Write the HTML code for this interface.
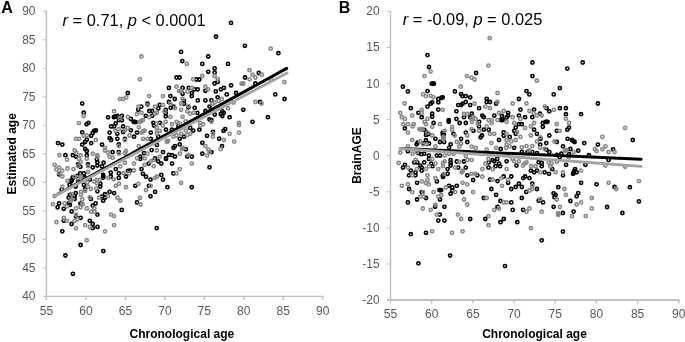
<!DOCTYPE html>
<html lang="en"><head><meta charset="utf-8"><title>Figure</title>
<style>html,body{margin:0;padding:0;background:#fff}svg{display:block;will-change:transform}text{font-family:"Liberation Sans", Arial, sans-serif}.tk{font-size:12px;fill:#595959}.ti{font-size:12px;font-weight:bold;fill:#000}.an{font-size:16.4px;fill:#000}.pl{font-size:16px;font-weight:bold;fill:#000}</style></head><body>
<svg width="685" height="342" viewBox="0 0 685 342">
<rect width="685" height="342" fill="#fff"/>
<g stroke="#bfbfbf" fill="none">
<line x1="46.4" y1="10.8" x2="46.4" y2="300.0" stroke-width="1.5"/>
<line x1="42.8" y1="296.4" x2="323.5" y2="296.4" stroke-width="1.1"/>
<line x1="42.8" y1="11.30" x2="46.4" y2="11.30" stroke-width="1"/>
<line x1="42.8" y1="39.81" x2="46.4" y2="39.81" stroke-width="1"/>
<line x1="42.8" y1="68.32" x2="46.4" y2="68.32" stroke-width="1"/>
<line x1="42.8" y1="96.83" x2="46.4" y2="96.83" stroke-width="1"/>
<line x1="42.8" y1="125.34" x2="46.4" y2="125.34" stroke-width="1"/>
<line x1="42.8" y1="153.85" x2="46.4" y2="153.85" stroke-width="1"/>
<line x1="42.8" y1="182.36" x2="46.4" y2="182.36" stroke-width="1"/>
<line x1="42.8" y1="210.87" x2="46.4" y2="210.87" stroke-width="1"/>
<line x1="42.8" y1="239.38" x2="46.4" y2="239.38" stroke-width="1"/>
<line x1="42.8" y1="267.89" x2="46.4" y2="267.89" stroke-width="1"/>
<line x1="85.89" y1="296.4" x2="85.89" y2="300.0" stroke-width="1.4"/>
<line x1="125.37" y1="296.4" x2="125.37" y2="300.0" stroke-width="1.4"/>
<line x1="164.86" y1="296.4" x2="164.86" y2="300.0" stroke-width="1.4"/>
<line x1="204.34" y1="296.4" x2="204.34" y2="300.0" stroke-width="1.4"/>
<line x1="243.83" y1="296.4" x2="243.83" y2="300.0" stroke-width="1.4"/>
<line x1="283.31" y1="296.4" x2="283.31" y2="300.0" stroke-width="1.4"/>
<line x1="322.80" y1="296.4" x2="322.80" y2="300.0" stroke-width="1.4"/>
</g>
<text class="tk" text-anchor="end" x="35.5" y="15.2">90</text>
<text class="tk" text-anchor="end" x="35.5" y="43.7">85</text>
<text class="tk" text-anchor="end" x="35.5" y="72.2">80</text>
<text class="tk" text-anchor="end" x="35.5" y="100.7">75</text>
<text class="tk" text-anchor="end" x="35.5" y="129.2">70</text>
<text class="tk" text-anchor="end" x="35.5" y="157.8">65</text>
<text class="tk" text-anchor="end" x="35.5" y="186.3">60</text>
<text class="tk" text-anchor="end" x="35.5" y="214.8">55</text>
<text class="tk" text-anchor="end" x="35.5" y="243.3">50</text>
<text class="tk" text-anchor="end" x="35.5" y="271.8">45</text>
<text class="tk" text-anchor="end" x="35.5" y="300.3">40</text>
<text class="tk" text-anchor="middle" x="46.4" y="314.7">55</text>
<text class="tk" text-anchor="middle" x="85.9" y="314.7">60</text>
<text class="tk" text-anchor="middle" x="125.4" y="314.7">65</text>
<text class="tk" text-anchor="middle" x="164.9" y="314.7">70</text>
<text class="tk" text-anchor="middle" x="204.3" y="314.7">75</text>
<text class="tk" text-anchor="middle" x="243.8" y="314.7">80</text>
<text class="tk" text-anchor="middle" x="283.3" y="314.7">85</text>
<text class="tk" text-anchor="middle" x="322.8" y="314.7">90</text>
<g stroke="#bfbfbf" fill="none">
<line x1="390.5" y1="10.9" x2="390.5" y2="303.6" stroke-width="1.4"/>
<line x1="386.9" y1="300.0" x2="679.5" y2="300.0" stroke-width="1.9"/>
<line x1="386.9" y1="11.40" x2="390.5" y2="11.40" stroke-width="1"/>
<line x1="386.9" y1="47.48" x2="390.5" y2="47.48" stroke-width="1"/>
<line x1="386.9" y1="83.55" x2="390.5" y2="83.55" stroke-width="1"/>
<line x1="386.9" y1="119.63" x2="390.5" y2="119.63" stroke-width="1"/>
<line x1="386.9" y1="155.70" x2="390.5" y2="155.70" stroke-width="1"/>
<line x1="386.9" y1="191.78" x2="390.5" y2="191.78" stroke-width="1"/>
<line x1="386.9" y1="227.85" x2="390.5" y2="227.85" stroke-width="1"/>
<line x1="386.9" y1="263.93" x2="390.5" y2="263.93" stroke-width="1"/>
<line x1="431.69" y1="300.0" x2="431.69" y2="303.6" stroke-width="1.4"/>
<line x1="472.87" y1="300.0" x2="472.87" y2="303.6" stroke-width="1.4"/>
<line x1="514.06" y1="300.0" x2="514.06" y2="303.6" stroke-width="1.4"/>
<line x1="555.24" y1="300.0" x2="555.24" y2="303.6" stroke-width="1.4"/>
<line x1="596.43" y1="300.0" x2="596.43" y2="303.6" stroke-width="1.4"/>
<line x1="637.61" y1="300.0" x2="637.61" y2="303.6" stroke-width="1.4"/>
<line x1="678.80" y1="300.0" x2="678.80" y2="303.6" stroke-width="1.4"/>
</g>
<text class="tk" text-anchor="end" x="379.6" y="15.3">20</text>
<text class="tk" text-anchor="end" x="379.6" y="51.4">15</text>
<text class="tk" text-anchor="end" x="379.6" y="87.5">10</text>
<text class="tk" text-anchor="end" x="379.6" y="123.5">5</text>
<text class="tk" text-anchor="end" x="379.6" y="159.6">0</text>
<text class="tk" text-anchor="end" x="379.6" y="195.7">-5</text>
<text class="tk" text-anchor="end" x="379.6" y="231.8">-10</text>
<text class="tk" text-anchor="end" x="379.6" y="267.8">-15</text>
<text class="tk" text-anchor="end" x="379.6" y="303.9">-20</text>
<text class="tk" text-anchor="middle" x="390.5" y="318.3">55</text>
<text class="tk" text-anchor="middle" x="431.7" y="318.3">60</text>
<text class="tk" text-anchor="middle" x="472.9" y="318.3">65</text>
<text class="tk" text-anchor="middle" x="514.1" y="318.3">70</text>
<text class="tk" text-anchor="middle" x="555.2" y="318.3">75</text>
<text class="tk" text-anchor="middle" x="596.4" y="318.3">80</text>
<text class="tk" text-anchor="middle" x="637.6" y="318.3">85</text>
<text class="tk" text-anchor="middle" x="678.8" y="318.3">90</text>
<g fill="none" stroke="#000" stroke-width="1.6">
<circle cx="168.9" cy="87.9" r="1.6"/><circle cx="216.0" cy="36.7" r="1.6"/><circle cx="244.9" cy="45.8" r="1.6"/><circle cx="278.4" cy="53.2" r="1.6"/><circle cx="181.1" cy="51.9" r="1.6"/><circle cx="208.2" cy="56.5" r="1.6"/><circle cx="182.3" cy="61.1" r="1.6"/><circle cx="202.3" cy="63.9" r="1.6"/><circle cx="228.1" cy="63.9" r="1.6"/><circle cx="214.6" cy="68.4" r="1.6"/><circle cx="208.2" cy="71.8" r="1.6"/><circle cx="214.6" cy="72.6" r="1.6"/><circle cx="176.5" cy="77.5" r="1.6"/><circle cx="179.6" cy="77.5" r="1.6"/><circle cx="196.3" cy="79.5" r="1.6"/><circle cx="199.3" cy="79.5" r="1.6"/><circle cx="245.1" cy="77.5" r="1.6"/><circle cx="258.8" cy="73.0" r="1.6"/><circle cx="217.7" cy="81.9" r="1.6"/><circle cx="214.6" cy="83.5" r="1.6"/><circle cx="231.1" cy="85.4" r="1.6"/><circle cx="255.4" cy="83.5" r="1.6"/><circle cx="182.6" cy="87.9" r="1.6"/><circle cx="188.8" cy="87.9" r="1.6"/><circle cx="194.6" cy="89.3" r="1.6"/><circle cx="197.7" cy="89.3" r="1.6"/><circle cx="223.9" cy="87.9" r="1.6"/><circle cx="220.9" cy="89.3" r="1.6"/><circle cx="82.2" cy="103.6" r="1.6"/><circle cx="83.7" cy="112.7" r="1.6"/><circle cx="127.8" cy="93.0" r="1.6"/><circle cx="108.1" cy="117.3" r="1.6"/><circle cx="113.9" cy="117.2" r="1.6"/><circle cx="115.5" cy="116.7" r="1.6"/><circle cx="117.4" cy="115.8" r="1.6"/><circle cx="121.9" cy="115.8" r="1.6"/><circle cx="119.0" cy="120.1" r="1.6"/><circle cx="121.9" cy="120.3" r="1.6"/><circle cx="115.7" cy="123.4" r="1.6"/><circle cx="88.4" cy="122.8" r="1.6"/><circle cx="86.5" cy="124.3" r="1.6"/><circle cx="191.8" cy="93.0" r="1.6"/><circle cx="191.8" cy="96.1" r="1.6"/><circle cx="170.4" cy="96.1" r="1.6"/><circle cx="174.8" cy="99.0" r="1.6"/><circle cx="197.8" cy="100.4" r="1.6"/><circle cx="205.4" cy="100.4" r="1.6"/><circle cx="168.9" cy="102.0" r="1.6"/><circle cx="184.0" cy="100.8" r="1.6"/><circle cx="184.0" cy="103.7" r="1.6"/><circle cx="141.3" cy="106.6" r="1.6"/><circle cx="147.5" cy="103.7" r="1.6"/><circle cx="159.8" cy="104.9" r="1.6"/><circle cx="158.3" cy="108.4" r="1.6"/><circle cx="138.2" cy="109.8" r="1.6"/><circle cx="170.7" cy="107.8" r="1.6"/><circle cx="173.6" cy="106.6" r="1.6"/><circle cx="194.7" cy="107.8" r="1.6"/><circle cx="149.3" cy="111.0" r="1.6"/><circle cx="152.2" cy="111.0" r="1.6"/><circle cx="165.7" cy="109.8" r="1.6"/><circle cx="165.7" cy="113.1" r="1.6"/><circle cx="145.8" cy="115.8" r="1.6"/><circle cx="152.2" cy="115.8" r="1.6"/><circle cx="165.7" cy="116.3" r="1.6"/><circle cx="130.9" cy="118.9" r="1.6"/><circle cx="134.7" cy="121.8" r="1.6"/><circle cx="153.4" cy="122.8" r="1.6"/><circle cx="159.8" cy="122.8" r="1.6"/><circle cx="197.3" cy="112.8" r="1.6"/><circle cx="205.4" cy="111.0" r="1.6"/><circle cx="209.5" cy="106.6" r="1.6"/><circle cx="205.4" cy="90.8" r="1.6"/><circle cx="182.6" cy="93.8" r="1.6"/><circle cx="188.5" cy="107.2" r="1.6"/><circle cx="209.5" cy="119.5" r="1.6"/><circle cx="215.8" cy="91.4" r="1.6"/><circle cx="226.7" cy="94.4" r="1.6"/><circle cx="236.0" cy="93.0" r="1.6"/><circle cx="217.6" cy="97.3" r="1.6"/><circle cx="211.4" cy="100.4" r="1.6"/><circle cx="275.3" cy="94.4" r="1.6"/><circle cx="284.5" cy="99.0" r="1.6"/><circle cx="260.1" cy="102.0" r="1.6"/><circle cx="243.3" cy="109.8" r="1.6"/><circle cx="222.3" cy="111.3" r="1.6"/><circle cx="220.8" cy="114.0" r="1.6"/><circle cx="223.8" cy="112.8" r="1.6"/><circle cx="222.3" cy="116.0" r="1.6"/><circle cx="214.7" cy="114.5" r="1.6"/><circle cx="229.6" cy="117.2" r="1.6"/><circle cx="267.9" cy="117.2" r="1.6"/><circle cx="252.5" cy="121.8" r="1.6"/><circle cx="211.4" cy="120.1" r="1.6"/><circle cx="111.1" cy="126.4" r="1.6"/><circle cx="114.1" cy="126.4" r="1.6"/><circle cx="123.1" cy="126.4" r="1.6"/><circle cx="82.2" cy="132.3" r="1.6"/><circle cx="94.2" cy="130.8" r="1.6"/><circle cx="95.8" cy="130.5" r="1.6"/><circle cx="92.7" cy="133.0" r="1.6"/><circle cx="91.2" cy="135.8" r="1.6"/><circle cx="109.6" cy="132.6" r="1.6"/><circle cx="117.3" cy="133.8" r="1.6"/><circle cx="109.6" cy="138.1" r="1.6"/><circle cx="111.1" cy="140.0" r="1.6"/><circle cx="117.3" cy="138.8" r="1.6"/><circle cx="86.8" cy="139.6" r="1.6"/><circle cx="85.1" cy="142.0" r="1.6"/><circle cx="82.2" cy="144.6" r="1.6"/><circle cx="91.2" cy="143.1" r="1.6"/><circle cx="58.0" cy="143.1" r="1.6"/><circle cx="62.3" cy="144.6" r="1.6"/><circle cx="102.0" cy="144.6" r="1.6"/><circle cx="85.1" cy="149.0" r="1.6"/><circle cx="86.8" cy="151.0" r="1.6"/><circle cx="65.4" cy="155.2" r="1.6"/><circle cx="72.8" cy="155.2" r="1.6"/><circle cx="76.0" cy="156.6" r="1.6"/><circle cx="86.8" cy="155.2" r="1.6"/><circle cx="112.6" cy="152.1" r="1.6"/><circle cx="118.8" cy="152.1" r="1.6"/><circle cx="96.8" cy="159.5" r="1.6"/><circle cx="103.6" cy="162.7" r="1.6"/><circle cx="97.4" cy="162.2" r="1.6"/><circle cx="123.1" cy="132.0" r="1.6"/><circle cx="118.8" cy="144.3" r="1.6"/><circle cx="124.9" cy="139.0" r="1.6"/><circle cx="78.1" cy="164.5" r="1.6"/><circle cx="88.0" cy="164.5" r="1.6"/><circle cx="130.9" cy="130.3" r="1.6"/><circle cx="137.0" cy="132.6" r="1.6"/><circle cx="134.1" cy="136.7" r="1.6"/><circle cx="150.8" cy="132.6" r="1.6"/><circle cx="150.8" cy="138.8" r="1.6"/><circle cx="166.0" cy="129.7" r="1.6"/><circle cx="171.9" cy="129.7" r="1.6"/><circle cx="158.3" cy="136.7" r="1.6"/><circle cx="154.0" cy="125.6" r="1.6"/><circle cx="178.5" cy="125.9" r="1.6"/><circle cx="193.2" cy="130.6" r="1.6"/><circle cx="199.4" cy="129.7" r="1.6"/><circle cx="190.2" cy="127.9" r="1.6"/><circle cx="184.0" cy="136.7" r="1.6"/><circle cx="179.7" cy="138.8" r="1.6"/><circle cx="207.0" cy="135.8" r="1.6"/><circle cx="202.3" cy="142.8" r="1.6"/><circle cx="156.9" cy="144.9" r="1.6"/><circle cx="179.7" cy="144.3" r="1.6"/><circle cx="175.0" cy="146.1" r="1.6"/><circle cx="173.5" cy="147.8" r="1.6"/><circle cx="185.9" cy="149.3" r="1.6"/><circle cx="163.0" cy="152.1" r="1.6"/><circle cx="202.3" cy="153.7" r="1.6"/><circle cx="168.9" cy="154.8" r="1.6"/><circle cx="172.1" cy="155.2" r="1.6"/><circle cx="175.0" cy="156.6" r="1.6"/><circle cx="191.8" cy="156.6" r="1.6"/><circle cx="187.3" cy="156.6" r="1.6"/><circle cx="166.0" cy="158.9" r="1.6"/><circle cx="140.3" cy="156.6" r="1.6"/><circle cx="140.3" cy="158.9" r="1.6"/><circle cx="151.6" cy="150.1" r="1.6"/><circle cx="144.0" cy="153.1" r="1.6"/><circle cx="155.1" cy="158.3" r="1.6"/><circle cx="158.1" cy="161.3" r="1.6"/><circle cx="172.1" cy="163.6" r="1.6"/><circle cx="161.3" cy="163.6" r="1.6"/><circle cx="148.7" cy="163.6" r="1.6"/><circle cx="212.9" cy="131.8" r="1.6"/><circle cx="225.2" cy="129.1" r="1.6"/><circle cx="223.5" cy="130.8" r="1.6"/><circle cx="219.1" cy="138.7" r="1.6"/><circle cx="222.0" cy="146.1" r="1.6"/><circle cx="211.4" cy="152.1" r="1.6"/><circle cx="80.4" cy="166.8" r="1.6"/><circle cx="92.7" cy="167.3" r="1.6"/><circle cx="102.0" cy="166.4" r="1.6"/><circle cx="97.4" cy="165.6" r="1.6"/><circle cx="59.1" cy="174.4" r="1.6"/><circle cx="80.2" cy="173.4" r="1.6"/><circle cx="83.9" cy="173.4" r="1.6"/><circle cx="72.8" cy="177.3" r="1.6"/><circle cx="71.6" cy="180.2" r="1.6"/><circle cx="83.9" cy="177.3" r="1.6"/><circle cx="89.8" cy="179.6" r="1.6"/><circle cx="69.6" cy="184.9" r="1.6"/><circle cx="75.7" cy="186.6" r="1.6"/><circle cx="83.9" cy="184.9" r="1.6"/><circle cx="103.2" cy="174.9" r="1.6"/><circle cx="103.2" cy="177.6" r="1.6"/><circle cx="110.8" cy="172.6" r="1.6"/><circle cx="110.8" cy="176.5" r="1.6"/><circle cx="115.8" cy="169.1" r="1.6"/><circle cx="118.8" cy="173.4" r="1.6"/><circle cx="118.8" cy="177.9" r="1.6"/><circle cx="126.0" cy="176.5" r="1.6"/><circle cx="128.1" cy="170.8" r="1.6"/><circle cx="100.3" cy="183.7" r="1.6"/><circle cx="100.3" cy="186.6" r="1.6"/><circle cx="97.4" cy="191.3" r="1.6"/><circle cx="85.1" cy="189.0" r="1.6"/><circle cx="61.7" cy="189.6" r="1.6"/><circle cx="109.6" cy="191.9" r="1.6"/><circle cx="114.1" cy="193.1" r="1.6"/><circle cx="75.7" cy="193.1" r="1.6"/><circle cx="74.6" cy="196.0" r="1.6"/><circle cx="68.7" cy="197.7" r="1.6"/><circle cx="74.6" cy="198.9" r="1.6"/><circle cx="105.0" cy="194.2" r="1.6"/><circle cx="102.0" cy="196.6" r="1.6"/><circle cx="105.0" cy="197.7" r="1.6"/><circle cx="103.2" cy="200.7" r="1.6"/><circle cx="90.9" cy="198.9" r="1.6"/><circle cx="59.1" cy="203.4" r="1.6"/><circle cx="68.7" cy="203.4" r="1.6"/><circle cx="95.6" cy="203.4" r="1.6"/><circle cx="80.4" cy="203.6" r="1.6"/><circle cx="69.9" cy="194.8" r="1.6"/><circle cx="141.5" cy="169.1" r="1.6"/><circle cx="142.9" cy="173.8" r="1.6"/><circle cx="146.0" cy="176.7" r="1.6"/><circle cx="150.5" cy="179.6" r="1.6"/><circle cx="161.3" cy="174.9" r="1.6"/><circle cx="163.0" cy="179.6" r="1.6"/><circle cx="173.3" cy="173.4" r="1.6"/><circle cx="135.3" cy="185.8" r="1.6"/><circle cx="148.9" cy="185.8" r="1.6"/><circle cx="167.4" cy="187.2" r="1.6"/><circle cx="191.8" cy="187.2" r="1.6"/><circle cx="155.1" cy="191.9" r="1.6"/><circle cx="150.5" cy="196.3" r="1.6"/><circle cx="137.0" cy="202.4" r="1.6"/><circle cx="130.2" cy="170.6" r="1.6"/><circle cx="209.5" cy="167.3" r="1.6"/><circle cx="156.7" cy="228.2" r="1.6"/><circle cx="103.3" cy="251.1" r="1.6"/><circle cx="80.6" cy="245.0" r="1.6"/><circle cx="65.4" cy="255.5" r="1.6"/><circle cx="72.9" cy="273.8" r="1.6"/><circle cx="57.6" cy="207.3" r="1.6"/><circle cx="63.8" cy="208.8" r="1.6"/><circle cx="69.9" cy="204.9" r="1.6"/><circle cx="71.6" cy="211.5" r="1.6"/><circle cx="92.7" cy="205.6" r="1.6"/><circle cx="97.4" cy="214.6" r="1.6"/><circle cx="121.7" cy="209.9" r="1.6"/><circle cx="80.6" cy="217.8" r="1.6"/><circle cx="76.0" cy="216.4" r="1.6"/><circle cx="63.8" cy="220.8" r="1.6"/><circle cx="71.6" cy="224.0" r="1.6"/><circle cx="89.8" cy="220.8" r="1.6"/><circle cx="92.7" cy="224.0" r="1.6"/><circle cx="92.7" cy="228.1" r="1.6"/><circle cx="97.4" cy="226.9" r="1.6"/><circle cx="62.3" cy="231.3" r="1.6"/><circle cx="231.0" cy="22.9" r="1.6"/><circle cx="133.5" cy="121.8" r="1.6"/><circle cx="135.6" cy="122.2" r="1.6"/><circle cx="103.2" cy="176.2" r="1.6"/><circle cx="114.7" cy="116.9" r="1.6"/><circle cx="77.4" cy="175.8" r="1.6"/><circle cx="73.2" cy="177.8" r="1.6"/><circle cx="71.2" cy="181.4" r="1.6"/><circle cx="84.6" cy="177.5" r="1.6"/><circle cx="78.2" cy="181.4" r="1.6"/><circle cx="166.0" cy="158.1" r="1.6"/>
</g>
<g fill="none" stroke="#888888" stroke-width="1.6">
<circle cx="141.4" cy="56.5" r="1.6"/><circle cx="139.8" cy="79.3" r="1.6"/><circle cx="270.7" cy="48.6" r="1.6"/><circle cx="186.8" cy="63.9" r="1.6"/><circle cx="249.5" cy="70.2" r="1.6"/><circle cx="252.5" cy="74.7" r="1.6"/><circle cx="261.8" cy="74.7" r="1.6"/><circle cx="255.4" cy="77.5" r="1.6"/><circle cx="249.5" cy="79.3" r="1.6"/><circle cx="202.3" cy="76.0" r="1.6"/><circle cx="214.6" cy="76.0" r="1.6"/><circle cx="217.7" cy="79.1" r="1.6"/><circle cx="193.2" cy="79.3" r="1.6"/><circle cx="176.5" cy="86.7" r="1.6"/><circle cx="205.4" cy="86.7" r="1.6"/><circle cx="191.9" cy="87.9" r="1.6"/><circle cx="208.2" cy="89.3" r="1.6"/><circle cx="284.4" cy="82.1" r="1.6"/><circle cx="270.9" cy="79.1" r="1.6"/><circle cx="241.6" cy="83.7" r="1.6"/><circle cx="243.3" cy="83.7" r="1.6"/><circle cx="119.9" cy="99.0" r="1.6"/><circle cx="123.1" cy="99.0" r="1.6"/><circle cx="126.3" cy="97.5" r="1.6"/><circle cx="114.1" cy="111.2" r="1.6"/><circle cx="83.7" cy="116.0" r="1.6"/><circle cx="127.8" cy="117.0" r="1.6"/><circle cx="79.0" cy="123.1" r="1.6"/><circle cx="119.9" cy="118.2" r="1.6"/><circle cx="180.3" cy="91.1" r="1.6"/><circle cx="187.3" cy="91.4" r="1.6"/><circle cx="149.1" cy="96.1" r="1.6"/><circle cx="163.0" cy="96.1" r="1.6"/><circle cx="182.6" cy="99.0" r="1.6"/><circle cx="181.1" cy="103.7" r="1.6"/><circle cx="170.4" cy="103.7" r="1.6"/><circle cx="147.5" cy="105.1" r="1.6"/><circle cx="138.4" cy="106.6" r="1.6"/><circle cx="155.1" cy="106.6" r="1.6"/><circle cx="163.0" cy="104.9" r="1.6"/><circle cx="175.0" cy="108.2" r="1.6"/><circle cx="181.1" cy="109.8" r="1.6"/><circle cx="141.5" cy="112.8" r="1.6"/><circle cx="156.9" cy="112.8" r="1.6"/><circle cx="136.8" cy="114.2" r="1.6"/><circle cx="164.5" cy="111.3" r="1.6"/><circle cx="187.3" cy="111.3" r="1.6"/><circle cx="190.2" cy="113.7" r="1.6"/><circle cx="193.7" cy="112.8" r="1.6"/><circle cx="170.4" cy="116.8" r="1.6"/><circle cx="182.6" cy="116.8" r="1.6"/><circle cx="149.3" cy="117.2" r="1.6"/><circle cx="155.1" cy="113.7" r="1.6"/><circle cx="139.9" cy="121.8" r="1.6"/><circle cx="142.9" cy="120.1" r="1.6"/><circle cx="165.7" cy="121.8" r="1.6"/><circle cx="176.5" cy="121.8" r="1.6"/><circle cx="156.9" cy="123.4" r="1.6"/><circle cx="171.9" cy="124.2" r="1.6"/><circle cx="179.7" cy="123.4" r="1.6"/><circle cx="185.6" cy="121.3" r="1.6"/><circle cx="188.5" cy="106.1" r="1.6"/><circle cx="200.2" cy="122.8" r="1.6"/><circle cx="203.1" cy="124.2" r="1.6"/><circle cx="221.7" cy="99.0" r="1.6"/><circle cx="218.8" cy="100.8" r="1.6"/><circle cx="214.7" cy="102.5" r="1.6"/><circle cx="212.3" cy="103.7" r="1.6"/><circle cx="255.4" cy="102.0" r="1.6"/><circle cx="261.5" cy="103.5" r="1.6"/><circle cx="228.1" cy="108.2" r="1.6"/><circle cx="233.4" cy="102.5" r="1.6"/><circle cx="239.0" cy="123.0" r="1.6"/><circle cx="211.4" cy="121.8" r="1.6"/><circle cx="118.8" cy="129.1" r="1.6"/><circle cx="115.5" cy="130.8" r="1.6"/><circle cx="124.9" cy="130.3" r="1.6"/><circle cx="127.8" cy="127.9" r="1.6"/><circle cx="83.7" cy="135.8" r="1.6"/><circle cx="86.8" cy="135.3" r="1.6"/><circle cx="76.0" cy="138.8" r="1.6"/><circle cx="79.0" cy="138.8" r="1.6"/><circle cx="95.8" cy="140.0" r="1.6"/><circle cx="74.6" cy="150.5" r="1.6"/><circle cx="76.3" cy="152.8" r="1.6"/><circle cx="80.6" cy="155.2" r="1.6"/><circle cx="92.7" cy="153.7" r="1.6"/><circle cx="97.4" cy="155.2" r="1.6"/><circle cx="105.0" cy="147.8" r="1.6"/><circle cx="105.0" cy="150.5" r="1.6"/><circle cx="107.9" cy="152.5" r="1.6"/><circle cx="59.4" cy="155.2" r="1.6"/><circle cx="67.0" cy="159.5" r="1.6"/><circle cx="79.0" cy="158.9" r="1.6"/><circle cx="80.6" cy="161.8" r="1.6"/><circle cx="86.8" cy="158.7" r="1.6"/><circle cx="109.6" cy="156.6" r="1.6"/><circle cx="112.6" cy="157.7" r="1.6"/><circle cx="118.8" cy="146.1" r="1.6"/><circle cx="124.9" cy="140.2" r="1.6"/><circle cx="126.0" cy="151.0" r="1.6"/><circle cx="124.9" cy="153.1" r="1.6"/><circle cx="124.9" cy="162.7" r="1.6"/><circle cx="129.5" cy="135.5" r="1.6"/><circle cx="119.0" cy="153.7" r="1.6"/><circle cx="54.7" cy="164.8" r="1.6"/><circle cx="97.4" cy="157.2" r="1.6"/><circle cx="138.8" cy="127.3" r="1.6"/><circle cx="144.6" cy="130.6" r="1.6"/><circle cx="141.7" cy="132.6" r="1.6"/><circle cx="156.9" cy="127.9" r="1.6"/><circle cx="156.9" cy="130.8" r="1.6"/><circle cx="159.8" cy="130.8" r="1.6"/><circle cx="156.9" cy="133.8" r="1.6"/><circle cx="143.1" cy="138.8" r="1.6"/><circle cx="147.5" cy="138.8" r="1.6"/><circle cx="138.8" cy="146.1" r="1.6"/><circle cx="167.4" cy="141.4" r="1.6"/><circle cx="173.5" cy="136.7" r="1.6"/><circle cx="176.5" cy="135.5" r="1.6"/><circle cx="181.1" cy="133.8" r="1.6"/><circle cx="185.9" cy="130.6" r="1.6"/><circle cx="190.2" cy="133.8" r="1.6"/><circle cx="187.3" cy="134.9" r="1.6"/><circle cx="205.4" cy="146.1" r="1.6"/><circle cx="208.4" cy="149.6" r="1.6"/><circle cx="182.6" cy="148.4" r="1.6"/><circle cx="179.7" cy="153.7" r="1.6"/><circle cx="156.9" cy="150.5" r="1.6"/><circle cx="147.5" cy="153.7" r="1.6"/><circle cx="144.6" cy="158.3" r="1.6"/><circle cx="137.0" cy="158.3" r="1.6"/><circle cx="159.8" cy="156.6" r="1.6"/><circle cx="150.8" cy="161.3" r="1.6"/><circle cx="153.4" cy="159.9" r="1.6"/><circle cx="134.1" cy="163.6" r="1.6"/><circle cx="144.6" cy="164.8" r="1.6"/><circle cx="191.8" cy="163.6" r="1.6"/><circle cx="207.2" cy="155.4" r="1.6"/><circle cx="188.5" cy="154.8" r="1.6"/><circle cx="200.2" cy="125.6" r="1.6"/><circle cx="162.7" cy="125.6" r="1.6"/><circle cx="209.5" cy="152.1" r="1.6"/><circle cx="212.9" cy="133.8" r="1.6"/><circle cx="212.9" cy="136.7" r="1.6"/><circle cx="229.6" cy="133.8" r="1.6"/><circle cx="239.0" cy="132.6" r="1.6"/><circle cx="223.8" cy="140.0" r="1.6"/><circle cx="234.2" cy="141.6" r="1.6"/><circle cx="220.5" cy="149.2" r="1.6"/><circle cx="239.0" cy="125.0" r="1.6"/><circle cx="59.1" cy="167.6" r="1.6"/><circle cx="56.4" cy="169.4" r="1.6"/><circle cx="62.3" cy="170.6" r="1.6"/><circle cx="67.5" cy="168.5" r="1.6"/><circle cx="73.4" cy="169.1" r="1.6"/><circle cx="78.1" cy="165.9" r="1.6"/><circle cx="88.0" cy="166.2" r="1.6"/><circle cx="120.2" cy="166.4" r="1.6"/><circle cx="88.0" cy="172.0" r="1.6"/><circle cx="62.3" cy="176.5" r="1.6"/><circle cx="59.1" cy="173.2" r="1.6"/><circle cx="67.5" cy="180.8" r="1.6"/><circle cx="74.6" cy="176.7" r="1.6"/><circle cx="77.5" cy="177.9" r="1.6"/><circle cx="81.0" cy="176.7" r="1.6"/><circle cx="96.8" cy="180.0" r="1.6"/><circle cx="99.7" cy="180.0" r="1.6"/><circle cx="96.8" cy="183.1" r="1.6"/><circle cx="87.4" cy="182.5" r="1.6"/><circle cx="88.0" cy="186.6" r="1.6"/><circle cx="90.9" cy="189.0" r="1.6"/><circle cx="62.3" cy="186.6" r="1.6"/><circle cx="54.7" cy="196.0" r="1.6"/><circle cx="81.0" cy="191.9" r="1.6"/><circle cx="81.0" cy="194.8" r="1.6"/><circle cx="85.1" cy="191.0" r="1.6"/><circle cx="72.0" cy="194.2" r="1.6"/><circle cx="82.2" cy="199.5" r="1.6"/><circle cx="72.0" cy="199.5" r="1.6"/><circle cx="89.8" cy="197.5" r="1.6"/><circle cx="99.1" cy="197.7" r="1.6"/><circle cx="107.9" cy="196.0" r="1.6"/><circle cx="117.3" cy="197.7" r="1.6"/><circle cx="120.2" cy="200.7" r="1.6"/><circle cx="113.7" cy="179.3" r="1.6"/><circle cx="108.5" cy="177.9" r="1.6"/><circle cx="119.0" cy="183.7" r="1.6"/><circle cx="115.8" cy="185.8" r="1.6"/><circle cx="126.0" cy="187.2" r="1.6"/><circle cx="123.5" cy="173.2" r="1.6"/><circle cx="128.9" cy="173.4" r="1.6"/><circle cx="64.6" cy="203.4" r="1.6"/><circle cx="82.7" cy="204.2" r="1.6"/><circle cx="52.9" cy="204.2" r="1.6"/><circle cx="96.2" cy="188.4" r="1.6"/><circle cx="94.4" cy="181.4" r="1.6"/><circle cx="133.9" cy="170.5" r="1.6"/><circle cx="153.7" cy="166.2" r="1.6"/><circle cx="179.7" cy="169.1" r="1.6"/><circle cx="176.5" cy="173.4" r="1.6"/><circle cx="156.9" cy="176.5" r="1.6"/><circle cx="155.1" cy="178.1" r="1.6"/><circle cx="181.1" cy="182.8" r="1.6"/><circle cx="138.4" cy="183.9" r="1.6"/><circle cx="150.8" cy="185.8" r="1.6"/><circle cx="146.0" cy="190.1" r="1.6"/><circle cx="139.9" cy="198.0" r="1.6"/><circle cx="140.5" cy="204.5" r="1.6"/><circle cx="86.7" cy="240.3" r="1.6"/><circle cx="67.0" cy="206.4" r="1.6"/><circle cx="76.0" cy="208.4" r="1.6"/><circle cx="80.6" cy="207.3" r="1.6"/><circle cx="86.8" cy="208.4" r="1.6"/><circle cx="94.4" cy="208.4" r="1.6"/><circle cx="91.2" cy="211.7" r="1.6"/><circle cx="94.4" cy="211.7" r="1.6"/><circle cx="111.1" cy="214.6" r="1.6"/><circle cx="114.1" cy="216.1" r="1.6"/><circle cx="63.8" cy="217.8" r="1.6"/><circle cx="67.0" cy="220.8" r="1.6"/><circle cx="74.6" cy="220.8" r="1.6"/><circle cx="77.5" cy="219.3" r="1.6"/><circle cx="76.0" cy="214.6" r="1.6"/><circle cx="56.4" cy="222.2" r="1.6"/><circle cx="85.1" cy="225.1" r="1.6"/><circle cx="89.8" cy="226.9" r="1.6"/><circle cx="76.0" cy="228.3" r="1.6"/><circle cx="114.1" cy="225.1" r="1.6"/><circle cx="105.0" cy="231.3" r="1.6"/><circle cx="70.5" cy="200.9" r="1.6"/><circle cx="179.1" cy="91.1" r="1.6"/><circle cx="181.5" cy="91.1" r="1.6"/><circle cx="141.3" cy="121.0" r="1.6"/><circle cx="242.5" cy="83.7" r="1.6"/><circle cx="80.8" cy="177.2" r="1.6"/><circle cx="143.1" cy="131.5" r="1.6"/><circle cx="166.8" cy="141.7" r="1.6"/><circle cx="168.0" cy="141.0" r="1.6"/><circle cx="182.0" cy="149.0" r="1.6"/><circle cx="183.2" cy="147.8" r="1.6"/>
</g>
<line x1="58" y1="194.0" x2="286.7" y2="68.4" stroke="#000" stroke-width="3" stroke-linecap="round"/>
<line x1="54.5" y1="196.1" x2="287.1" y2="73.0" stroke="#a3a3a3" stroke-width="2.8" stroke-linecap="round"/>
<g fill="none" stroke="#000" stroke-width="1.6">
<circle cx="427.5" cy="55.1" r="1.6"/><circle cx="429.0" cy="67.0" r="1.6"/><circle cx="476.1" cy="73.0" r="1.6"/><circle cx="431.8" cy="83.7" r="1.6"/><circle cx="433.9" cy="83.7" r="1.6"/><circle cx="402.9" cy="86.7" r="1.6"/><circle cx="532.4" cy="62.5" r="1.6"/><circle cx="582.7" cy="62.5" r="1.6"/><circle cx="567.3" cy="68.6" r="1.6"/><circle cx="532.4" cy="76.1" r="1.6"/><circle cx="559.9" cy="88.1" r="1.6"/><circle cx="407.9" cy="91.4" r="1.6"/><circle cx="427.5" cy="91.1" r="1.6"/><circle cx="454.9" cy="91.4" r="1.6"/><circle cx="461.1" cy="94.1" r="1.6"/><circle cx="462.6" cy="96.1" r="1.6"/><circle cx="465.8" cy="96.1" r="1.6"/><circle cx="470.2" cy="97.3" r="1.6"/><circle cx="441.2" cy="98.1" r="1.6"/><circle cx="442.7" cy="97.3" r="1.6"/><circle cx="438.3" cy="99.0" r="1.6"/><circle cx="438.3" cy="102.3" r="1.6"/><circle cx="432.2" cy="102.3" r="1.6"/><circle cx="430.7" cy="103.7" r="1.6"/><circle cx="427.5" cy="106.6" r="1.6"/><circle cx="410.8" cy="108.2" r="1.6"/><circle cx="438.3" cy="109.6" r="1.6"/><circle cx="418.4" cy="112.8" r="1.6"/><circle cx="421.7" cy="117.2" r="1.6"/><circle cx="432.2" cy="113.7" r="1.6"/><circle cx="432.2" cy="116.8" r="1.6"/><circle cx="456.4" cy="111.3" r="1.6"/><circle cx="458.2" cy="105.1" r="1.6"/><circle cx="461.1" cy="105.1" r="1.6"/><circle cx="462.6" cy="103.7" r="1.6"/><circle cx="465.8" cy="102.0" r="1.6"/><circle cx="470.2" cy="105.1" r="1.6"/><circle cx="471.8" cy="113.7" r="1.6"/><circle cx="464.0" cy="117.2" r="1.6"/><circle cx="470.2" cy="117.2" r="1.6"/><circle cx="456.4" cy="118.9" r="1.6"/><circle cx="448.8" cy="120.1" r="1.6"/><circle cx="448.8" cy="121.8" r="1.6"/><circle cx="459.6" cy="123.0" r="1.6"/><circle cx="465.8" cy="123.0" r="1.6"/><circle cx="433.6" cy="123.0" r="1.6"/><circle cx="526.5" cy="91.1" r="1.6"/><circle cx="529.4" cy="94.4" r="1.6"/><circle cx="553.7" cy="94.4" r="1.6"/><circle cx="518.9" cy="99.0" r="1.6"/><circle cx="486.7" cy="98.8" r="1.6"/><circle cx="486.7" cy="102.0" r="1.6"/><circle cx="490.0" cy="102.0" r="1.6"/><circle cx="496.1" cy="103.7" r="1.6"/><circle cx="479.1" cy="108.2" r="1.6"/><circle cx="520.4" cy="109.6" r="1.6"/><circle cx="534.1" cy="109.6" r="1.6"/><circle cx="546.6" cy="108.2" r="1.6"/><circle cx="549.3" cy="111.3" r="1.6"/><circle cx="508.1" cy="112.8" r="1.6"/><circle cx="508.1" cy="115.6" r="1.6"/><circle cx="501.9" cy="116.0" r="1.6"/><circle cx="506.6" cy="117.5" r="1.6"/><circle cx="494.3" cy="115.6" r="1.6"/><circle cx="482.3" cy="115.6" r="1.6"/><circle cx="483.8" cy="117.2" r="1.6"/><circle cx="518.9" cy="115.6" r="1.6"/><circle cx="525.1" cy="117.2" r="1.6"/><circle cx="532.3" cy="117.2" r="1.6"/><circle cx="539.9" cy="113.7" r="1.6"/><circle cx="479.1" cy="121.8" r="1.6"/><circle cx="501.9" cy="120.1" r="1.6"/><circle cx="518.9" cy="124.2" r="1.6"/><circle cx="521.8" cy="124.2" r="1.6"/><circle cx="542.8" cy="123.0" r="1.6"/><circle cx="545.8" cy="121.8" r="1.6"/><circle cx="547.5" cy="121.8" r="1.6"/><circle cx="597.9" cy="103.5" r="1.6"/><circle cx="559.9" cy="108.2" r="1.6"/><circle cx="565.9" cy="108.2" r="1.6"/><circle cx="565.9" cy="114.2" r="1.6"/><circle cx="581.1" cy="114.2" r="1.6"/><circle cx="404.9" cy="128.3" r="1.6"/><circle cx="465.8" cy="132.6" r="1.6"/><circle cx="473.4" cy="130.8" r="1.6"/><circle cx="453.5" cy="133.8" r="1.6"/><circle cx="443.0" cy="132.6" r="1.6"/><circle cx="443.0" cy="135.5" r="1.6"/><circle cx="461.1" cy="138.8" r="1.6"/><circle cx="467.3" cy="142.0" r="1.6"/><circle cx="435.4" cy="138.8" r="1.6"/><circle cx="440.0" cy="142.0" r="1.6"/><circle cx="444.1" cy="142.0" r="1.6"/><circle cx="426.6" cy="132.6" r="1.6"/><circle cx="426.0" cy="140.2" r="1.6"/><circle cx="423.1" cy="143.5" r="1.6"/><circle cx="428.9" cy="143.5" r="1.6"/><circle cx="416.6" cy="144.3" r="1.6"/><circle cx="450.6" cy="144.3" r="1.6"/><circle cx="449.0" cy="147.8" r="1.6"/><circle cx="407.9" cy="151.3" r="1.6"/><circle cx="421.3" cy="154.2" r="1.6"/><circle cx="428.9" cy="155.6" r="1.6"/><circle cx="436.9" cy="155.6" r="1.6"/><circle cx="440.0" cy="155.6" r="1.6"/><circle cx="428.9" cy="158.9" r="1.6"/><circle cx="450.6" cy="160.1" r="1.6"/><circle cx="456.8" cy="161.5" r="1.6"/><circle cx="464.0" cy="161.5" r="1.6"/><circle cx="414.3" cy="162.4" r="1.6"/><circle cx="417.2" cy="162.4" r="1.6"/><circle cx="424.2" cy="162.4" r="1.6"/><circle cx="404.9" cy="164.8" r="1.6"/><circle cx="431.3" cy="163.6" r="1.6"/><circle cx="418.4" cy="153.1" r="1.6"/><circle cx="424.2" cy="153.7" r="1.6"/><circle cx="450.6" cy="163.0" r="1.6"/><circle cx="479.1" cy="126.4" r="1.6"/><circle cx="483.8" cy="129.7" r="1.6"/><circle cx="488.8" cy="129.7" r="1.6"/><circle cx="482.0" cy="135.5" r="1.6"/><circle cx="480.6" cy="137.3" r="1.6"/><circle cx="503.7" cy="132.3" r="1.6"/><circle cx="503.7" cy="135.8" r="1.6"/><circle cx="509.7" cy="136.9" r="1.6"/><circle cx="499.0" cy="140.0" r="1.6"/><circle cx="514.2" cy="130.8" r="1.6"/><circle cx="515.7" cy="127.6" r="1.6"/><circle cx="515.7" cy="133.8" r="1.6"/><circle cx="534.1" cy="129.7" r="1.6"/><circle cx="537.0" cy="133.8" r="1.6"/><circle cx="542.8" cy="126.8" r="1.6"/><circle cx="549.3" cy="135.5" r="1.6"/><circle cx="540.5" cy="138.8" r="1.6"/><circle cx="546.3" cy="143.1" r="1.6"/><circle cx="540.3" cy="144.6" r="1.6"/><circle cx="514.2" cy="147.8" r="1.6"/><circle cx="500.7" cy="149.0" r="1.6"/><circle cx="521.8" cy="151.9" r="1.6"/><circle cx="527.6" cy="152.1" r="1.6"/><circle cx="532.3" cy="152.1" r="1.6"/><circle cx="537.0" cy="153.1" r="1.6"/><circle cx="546.3" cy="149.6" r="1.6"/><circle cx="549.3" cy="152.1" r="1.6"/><circle cx="506.6" cy="161.3" r="1.6"/><circle cx="494.3" cy="161.3" r="1.6"/><circle cx="488.8" cy="162.4" r="1.6"/><circle cx="499.0" cy="163.6" r="1.6"/><circle cx="538.7" cy="162.2" r="1.6"/><circle cx="541.7" cy="163.0" r="1.6"/><circle cx="497.2" cy="158.9" r="1.6"/><circle cx="492.5" cy="160.1" r="1.6"/><circle cx="569.0" cy="127.6" r="1.6"/><circle cx="567.3" cy="129.7" r="1.6"/><circle cx="556.8" cy="130.8" r="1.6"/><circle cx="567.6" cy="138.8" r="1.6"/><circle cx="572.0" cy="140.0" r="1.6"/><circle cx="574.6" cy="142.0" r="1.6"/><circle cx="556.8" cy="142.0" r="1.6"/><circle cx="584.2" cy="143.1" r="1.6"/><circle cx="597.9" cy="144.6" r="1.6"/><circle cx="563.0" cy="146.3" r="1.6"/><circle cx="570.4" cy="149.0" r="1.6"/><circle cx="578.2" cy="150.7" r="1.6"/><circle cx="613.1" cy="149.3" r="1.6"/><circle cx="632.8" cy="140.0" r="1.6"/><circle cx="561.4" cy="153.7" r="1.6"/><circle cx="569.0" cy="154.2" r="1.6"/><circle cx="588.9" cy="155.2" r="1.6"/><circle cx="608.6" cy="159.9" r="1.6"/><circle cx="559.7" cy="157.2" r="1.6"/><circle cx="556.8" cy="154.8" r="1.6"/><circle cx="566.1" cy="164.8" r="1.6"/><circle cx="585.4" cy="164.8" r="1.6"/><circle cx="403.0" cy="167.6" r="1.6"/><circle cx="410.8" cy="170.6" r="1.6"/><circle cx="409.0" cy="175.3" r="1.6"/><circle cx="415.5" cy="172.3" r="1.6"/><circle cx="415.5" cy="175.3" r="1.6"/><circle cx="421.7" cy="167.6" r="1.6"/><circle cx="421.7" cy="170.6" r="1.6"/><circle cx="420.1" cy="165.6" r="1.6"/><circle cx="447.6" cy="169.1" r="1.6"/><circle cx="447.6" cy="173.8" r="1.6"/><circle cx="443.0" cy="175.5" r="1.6"/><circle cx="443.0" cy="176.9" r="1.6"/><circle cx="458.2" cy="167.6" r="1.6"/><circle cx="465.8" cy="167.6" r="1.6"/><circle cx="467.3" cy="175.3" r="1.6"/><circle cx="473.1" cy="180.0" r="1.6"/><circle cx="417.0" cy="182.8" r="1.6"/><circle cx="436.9" cy="181.4" r="1.6"/><circle cx="409.0" cy="189.0" r="1.6"/><circle cx="449.0" cy="185.8" r="1.6"/><circle cx="452.3" cy="187.5" r="1.6"/><circle cx="456.8" cy="185.8" r="1.6"/><circle cx="452.3" cy="190.5" r="1.6"/><circle cx="450.6" cy="193.7" r="1.6"/><circle cx="462.6" cy="192.1" r="1.6"/><circle cx="421.7" cy="192.1" r="1.6"/><circle cx="439.4" cy="190.1" r="1.6"/><circle cx="441.2" cy="190.1" r="1.6"/><circle cx="417.0" cy="199.5" r="1.6"/><circle cx="426.0" cy="198.0" r="1.6"/><circle cx="440.0" cy="199.5" r="1.6"/><circle cx="407.9" cy="202.4" r="1.6"/><circle cx="432.4" cy="166.2" r="1.6"/><circle cx="450.6" cy="165.6" r="1.6"/><circle cx="488.5" cy="167.6" r="1.6"/><circle cx="495.5" cy="166.2" r="1.6"/><circle cx="500.1" cy="166.2" r="1.6"/><circle cx="541.7" cy="166.2" r="1.6"/><circle cx="530.9" cy="170.6" r="1.6"/><circle cx="534.1" cy="172.3" r="1.6"/><circle cx="537.0" cy="170.6" r="1.6"/><circle cx="544.6" cy="172.3" r="1.6"/><circle cx="549.0" cy="173.8" r="1.6"/><circle cx="552.2" cy="169.1" r="1.6"/><circle cx="477.3" cy="175.3" r="1.6"/><circle cx="503.7" cy="176.5" r="1.6"/><circle cx="511.3" cy="176.5" r="1.6"/><circle cx="490.0" cy="179.6" r="1.6"/><circle cx="497.5" cy="181.1" r="1.6"/><circle cx="508.1" cy="182.8" r="1.6"/><circle cx="525.1" cy="176.5" r="1.6"/><circle cx="523.2" cy="178.1" r="1.6"/><circle cx="529.4" cy="178.1" r="1.6"/><circle cx="518.9" cy="183.7" r="1.6"/><circle cx="515.7" cy="187.0" r="1.6"/><circle cx="521.8" cy="187.0" r="1.6"/><circle cx="511.3" cy="189.0" r="1.6"/><circle cx="491.4" cy="189.0" r="1.6"/><circle cx="532.3" cy="183.7" r="1.6"/><circle cx="537.0" cy="189.0" r="1.6"/><circle cx="526.2" cy="191.9" r="1.6"/><circle cx="496.1" cy="194.8" r="1.6"/><circle cx="483.8" cy="198.0" r="1.6"/><circle cx="521.8" cy="198.0" r="1.6"/><circle cx="500.5" cy="201.0" r="1.6"/><circle cx="511.3" cy="202.4" r="1.6"/><circle cx="538.7" cy="200.7" r="1.6"/><circle cx="543.1" cy="202.4" r="1.6"/><circle cx="553.6" cy="193.3" r="1.6"/><circle cx="554.5" cy="197.2" r="1.6"/><circle cx="516.5" cy="165.6" r="1.6"/><circle cx="575.1" cy="169.1" r="1.6"/><circle cx="573.7" cy="172.3" r="1.6"/><circle cx="576.6" cy="172.3" r="1.6"/><circle cx="573.1" cy="173.8" r="1.6"/><circle cx="563.0" cy="175.3" r="1.6"/><circle cx="581.1" cy="182.8" r="1.6"/><circle cx="596.5" cy="184.3" r="1.6"/><circle cx="614.6" cy="187.0" r="1.6"/><circle cx="629.9" cy="187.2" r="1.6"/><circle cx="558.3" cy="187.2" r="1.6"/><circle cx="578.2" cy="193.1" r="1.6"/><circle cx="576.6" cy="196.3" r="1.6"/><circle cx="570.4" cy="201.0" r="1.6"/><circle cx="555.6" cy="194.8" r="1.6"/><circle cx="435.1" cy="206.8" r="1.6"/><circle cx="444.4" cy="206.8" r="1.6"/><circle cx="439.8" cy="214.6" r="1.6"/><circle cx="438.3" cy="220.6" r="1.6"/><circle cx="444.4" cy="220.6" r="1.6"/><circle cx="470.2" cy="219.0" r="1.6"/><circle cx="410.8" cy="234.2" r="1.6"/><circle cx="426.0" cy="232.8" r="1.6"/><circle cx="497.5" cy="206.8" r="1.6"/><circle cx="512.7" cy="209.9" r="1.6"/><circle cx="523.2" cy="209.9" r="1.6"/><circle cx="553.6" cy="206.8" r="1.6"/><circle cx="485.3" cy="219.0" r="1.6"/><circle cx="503.7" cy="219.0" r="1.6"/><circle cx="500.5" cy="222.2" r="1.6"/><circle cx="517.3" cy="222.2" r="1.6"/><circle cx="541.7" cy="240.3" r="1.6"/><circle cx="638.9" cy="201.4" r="1.6"/><circle cx="607.1" cy="207.0" r="1.6"/><circle cx="622.4" cy="213.0" r="1.6"/><circle cx="562.9" cy="213.0" r="1.6"/><circle cx="573.6" cy="211.6" r="1.6"/><circle cx="562.9" cy="231.6" r="1.6"/><circle cx="450.1" cy="255.6" r="1.6"/><circle cx="418.4" cy="263.3" r="1.6"/><circle cx="505.0" cy="266.1" r="1.6"/><circle cx="432.9" cy="83.7" r="1.6"/><circle cx="441.9" cy="97.6" r="1.6"/><circle cx="448.8" cy="121.0" r="1.6"/><circle cx="546.6" cy="121.8" r="1.6"/><circle cx="501.0" cy="120.1" r="1.6"/><circle cx="502.8" cy="120.1" r="1.6"/><circle cx="573.4" cy="141.0" r="1.6"/><circle cx="440.4" cy="190.1" r="1.6"/><circle cx="443.0" cy="176.2" r="1.6"/><circle cx="573.5" cy="173.0" r="1.6"/><circle cx="574.3" cy="170.8" r="1.6"/><circle cx="424.4" cy="130.0" r="1.6"/><circle cx="426.0" cy="134.9" r="1.6"/><circle cx="428.6" cy="134.2" r="1.6"/><circle cx="442.7" cy="133.4" r="1.6"/><circle cx="443.8" cy="134.5" r="1.6"/><circle cx="417.6" cy="142.7" r="1.6"/>
</g>
<g fill="none" stroke="#888888" stroke-width="1.6">
<circle cx="489.7" cy="38.2" r="1.6"/><circle cx="488.3" cy="65.6" r="1.6"/><circle cx="430.6" cy="71.6" r="1.6"/><circle cx="424.5" cy="76.1" r="1.6"/><circle cx="466.9" cy="76.1" r="1.6"/><circle cx="471.5" cy="77.7" r="1.6"/><circle cx="474.6" cy="79.5" r="1.6"/><circle cx="460.8" cy="86.7" r="1.6"/><circle cx="536.9" cy="80.7" r="1.6"/><circle cx="423.1" cy="94.4" r="1.6"/><circle cx="426.0" cy="96.1" r="1.6"/><circle cx="430.7" cy="95.8" r="1.6"/><circle cx="433.6" cy="97.3" r="1.6"/><circle cx="404.7" cy="103.5" r="1.6"/><circle cx="421.7" cy="109.8" r="1.6"/><circle cx="421.7" cy="112.8" r="1.6"/><circle cx="442.7" cy="109.8" r="1.6"/><circle cx="400.3" cy="112.8" r="1.6"/><circle cx="412.3" cy="115.6" r="1.6"/><circle cx="401.8" cy="117.2" r="1.6"/><circle cx="404.9" cy="118.9" r="1.6"/><circle cx="427.5" cy="118.9" r="1.6"/><circle cx="424.5" cy="121.8" r="1.6"/><circle cx="464.0" cy="114.0" r="1.6"/><circle cx="467.3" cy="114.0" r="1.6"/><circle cx="474.5" cy="103.7" r="1.6"/><circle cx="471.8" cy="118.9" r="1.6"/><circle cx="471.8" cy="121.8" r="1.6"/><circle cx="403.4" cy="124.2" r="1.6"/><circle cx="407.9" cy="124.2" r="1.6"/><circle cx="413.7" cy="124.2" r="1.6"/><circle cx="440.0" cy="124.2" r="1.6"/><circle cx="426.0" cy="124.2" r="1.6"/><circle cx="473.4" cy="117.2" r="1.6"/><circle cx="497.5" cy="93.0" r="1.6"/><circle cx="497.5" cy="102.0" r="1.6"/><circle cx="512.7" cy="103.5" r="1.6"/><circle cx="526.5" cy="103.5" r="1.6"/><circle cx="485.3" cy="106.6" r="1.6"/><circle cx="490.0" cy="108.2" r="1.6"/><circle cx="544.9" cy="106.6" r="1.6"/><circle cx="553.9" cy="109.8" r="1.6"/><circle cx="503.7" cy="111.0" r="1.6"/><circle cx="499.0" cy="112.8" r="1.6"/><circle cx="529.4" cy="111.0" r="1.6"/><circle cx="533.5" cy="113.1" r="1.6"/><circle cx="537.0" cy="115.6" r="1.6"/><circle cx="541.7" cy="115.6" r="1.6"/><circle cx="512.7" cy="117.2" r="1.6"/><circle cx="520.4" cy="118.9" r="1.6"/><circle cx="475.6" cy="118.9" r="1.6"/><circle cx="488.5" cy="120.1" r="1.6"/><circle cx="491.6" cy="120.1" r="1.6"/><circle cx="491.6" cy="123.0" r="1.6"/><circle cx="497.5" cy="120.1" r="1.6"/><circle cx="506.6" cy="121.8" r="1.6"/><circle cx="514.2" cy="123.0" r="1.6"/><circle cx="534.1" cy="123.0" r="1.6"/><circle cx="477.9" cy="123.6" r="1.6"/><circle cx="565.9" cy="118.7" r="1.6"/><circle cx="569.0" cy="123.0" r="1.6"/><circle cx="556.8" cy="124.2" r="1.6"/><circle cx="412.5" cy="126.4" r="1.6"/><circle cx="432.2" cy="126.8" r="1.6"/><circle cx="452.1" cy="126.8" r="1.6"/><circle cx="452.1" cy="129.7" r="1.6"/><circle cx="407.9" cy="132.6" r="1.6"/><circle cx="421.3" cy="129.4" r="1.6"/><circle cx="427.5" cy="132.6" r="1.6"/><circle cx="432.2" cy="135.5" r="1.6"/><circle cx="444.7" cy="130.8" r="1.6"/><circle cx="454.6" cy="135.5" r="1.6"/><circle cx="467.3" cy="135.5" r="1.6"/><circle cx="471.6" cy="129.4" r="1.6"/><circle cx="412.3" cy="140.0" r="1.6"/><circle cx="420.1" cy="141.4" r="1.6"/><circle cx="443.0" cy="138.5" r="1.6"/><circle cx="456.8" cy="142.0" r="1.6"/><circle cx="461.1" cy="143.5" r="1.6"/><circle cx="459.3" cy="146.6" r="1.6"/><circle cx="471.6" cy="146.6" r="1.6"/><circle cx="407.9" cy="146.3" r="1.6"/><circle cx="435.4" cy="146.3" r="1.6"/><circle cx="400.3" cy="152.5" r="1.6"/><circle cx="412.5" cy="153.7" r="1.6"/><circle cx="416.6" cy="152.1" r="1.6"/><circle cx="432.2" cy="158.9" r="1.6"/><circle cx="444.7" cy="155.6" r="1.6"/><circle cx="449.0" cy="153.7" r="1.6"/><circle cx="453.5" cy="153.7" r="1.6"/><circle cx="465.8" cy="156.0" r="1.6"/><circle cx="471.6" cy="160.1" r="1.6"/><circle cx="467.3" cy="160.1" r="1.6"/><circle cx="415.5" cy="159.9" r="1.6"/><circle cx="398.7" cy="163.0" r="1.6"/><circle cx="444.7" cy="161.3" r="1.6"/><circle cx="443.0" cy="163.0" r="1.6"/><circle cx="435.4" cy="163.6" r="1.6"/><circle cx="459.3" cy="161.8" r="1.6"/><circle cx="423.1" cy="144.3" r="1.6"/><circle cx="426.6" cy="144.3" r="1.6"/><circle cx="486.7" cy="126.4" r="1.6"/><circle cx="479.1" cy="130.8" r="1.6"/><circle cx="490.0" cy="133.8" r="1.6"/><circle cx="494.3" cy="133.8" r="1.6"/><circle cx="506.6" cy="133.8" r="1.6"/><circle cx="517.1" cy="132.3" r="1.6"/><circle cx="525.1" cy="127.9" r="1.6"/><circle cx="530.9" cy="126.4" r="1.6"/><circle cx="530.9" cy="135.5" r="1.6"/><circle cx="520.4" cy="136.9" r="1.6"/><circle cx="506.6" cy="140.0" r="1.6"/><circle cx="511.3" cy="141.4" r="1.6"/><circle cx="515.7" cy="140.0" r="1.6"/><circle cx="491.4" cy="143.1" r="1.6"/><circle cx="496.1" cy="147.8" r="1.6"/><circle cx="486.7" cy="149.6" r="1.6"/><circle cx="506.0" cy="147.8" r="1.6"/><circle cx="506.6" cy="144.6" r="1.6"/><circle cx="509.7" cy="146.3" r="1.6"/><circle cx="521.8" cy="147.5" r="1.6"/><circle cx="526.5" cy="146.1" r="1.6"/><circle cx="532.3" cy="146.1" r="1.6"/><circle cx="537.0" cy="141.4" r="1.6"/><circle cx="540.3" cy="147.8" r="1.6"/><circle cx="544.9" cy="149.0" r="1.6"/><circle cx="529.4" cy="150.5" r="1.6"/><circle cx="475.6" cy="147.8" r="1.6"/><circle cx="540.5" cy="137.3" r="1.6"/><circle cx="488.5" cy="158.9" r="1.6"/><circle cx="514.2" cy="161.3" r="1.6"/><circle cx="518.9" cy="161.3" r="1.6"/><circle cx="526.5" cy="162.4" r="1.6"/><circle cx="524.7" cy="163.6" r="1.6"/><circle cx="548.7" cy="162.4" r="1.6"/><circle cx="551.6" cy="163.6" r="1.6"/><circle cx="485.5" cy="163.6" r="1.6"/><circle cx="512.4" cy="158.9" r="1.6"/><circle cx="554.5" cy="141.4" r="1.6"/><circle cx="625.2" cy="127.9" r="1.6"/><circle cx="602.4" cy="136.9" r="1.6"/><circle cx="559.7" cy="130.8" r="1.6"/><circle cx="605.5" cy="146.3" r="1.6"/><circle cx="594.8" cy="149.0" r="1.6"/><circle cx="596.5" cy="151.0" r="1.6"/><circle cx="602.4" cy="149.3" r="1.6"/><circle cx="608.6" cy="152.1" r="1.6"/><circle cx="614.6" cy="152.1" r="1.6"/><circle cx="573.7" cy="152.1" r="1.6"/><circle cx="564.9" cy="150.5" r="1.6"/><circle cx="566.7" cy="150.5" r="1.6"/><circle cx="556.8" cy="161.8" r="1.6"/><circle cx="569.0" cy="157.2" r="1.6"/><circle cx="407.9" cy="167.6" r="1.6"/><circle cx="417.0" cy="169.1" r="1.6"/><circle cx="426.0" cy="169.1" r="1.6"/><circle cx="428.9" cy="166.2" r="1.6"/><circle cx="438.3" cy="169.1" r="1.6"/><circle cx="443.0" cy="166.2" r="1.6"/><circle cx="455.2" cy="167.6" r="1.6"/><circle cx="412.3" cy="175.3" r="1.6"/><circle cx="427.5" cy="175.3" r="1.6"/><circle cx="435.4" cy="178.1" r="1.6"/><circle cx="427.5" cy="180.0" r="1.6"/><circle cx="421.7" cy="181.4" r="1.6"/><circle cx="426.0" cy="183.1" r="1.6"/><circle cx="428.9" cy="184.3" r="1.6"/><circle cx="401.8" cy="185.8" r="1.6"/><circle cx="407.9" cy="184.3" r="1.6"/><circle cx="412.3" cy="192.1" r="1.6"/><circle cx="423.1" cy="192.1" r="1.6"/><circle cx="433.6" cy="192.1" r="1.6"/><circle cx="445.9" cy="187.5" r="1.6"/><circle cx="455.2" cy="192.1" r="1.6"/><circle cx="462.6" cy="182.8" r="1.6"/><circle cx="467.3" cy="184.3" r="1.6"/><circle cx="473.1" cy="192.1" r="1.6"/><circle cx="461.7" cy="172.3" r="1.6"/><circle cx="462.8" cy="170.6" r="1.6"/><circle cx="471.6" cy="173.8" r="1.6"/><circle cx="420.1" cy="196.6" r="1.6"/><circle cx="423.1" cy="196.6" r="1.6"/><circle cx="438.3" cy="196.6" r="1.6"/><circle cx="441.2" cy="195.2" r="1.6"/><circle cx="464.0" cy="199.5" r="1.6"/><circle cx="467.3" cy="204.5" r="1.6"/><circle cx="435.4" cy="204.8" r="1.6"/><circle cx="444.1" cy="173.8" r="1.6"/><circle cx="482.3" cy="169.1" r="1.6"/><circle cx="492.8" cy="169.1" r="1.6"/><circle cx="506.6" cy="169.1" r="1.6"/><circle cx="482.3" cy="176.7" r="1.6"/><circle cx="475.6" cy="173.8" r="1.6"/><circle cx="501.3" cy="178.1" r="1.6"/><circle cx="492.8" cy="179.6" r="1.6"/><circle cx="508.1" cy="179.6" r="1.6"/><circle cx="502.1" cy="185.8" r="1.6"/><circle cx="532.3" cy="185.8" r="1.6"/><circle cx="532.3" cy="189.0" r="1.6"/><circle cx="529.4" cy="190.5" r="1.6"/><circle cx="540.3" cy="172.3" r="1.6"/><circle cx="531.1" cy="166.2" r="1.6"/><circle cx="535.6" cy="166.2" r="1.6"/><circle cx="550.4" cy="166.2" r="1.6"/><circle cx="486.7" cy="198.0" r="1.6"/><circle cx="503.7" cy="202.4" r="1.6"/><circle cx="506.6" cy="202.4" r="1.6"/><circle cx="540.3" cy="199.2" r="1.6"/><circle cx="523.0" cy="165.6" r="1.6"/><circle cx="555.6" cy="172.3" r="1.6"/><circle cx="563.0" cy="172.3" r="1.6"/><circle cx="581.1" cy="170.6" r="1.6"/><circle cx="608.6" cy="182.8" r="1.6"/><circle cx="616.2" cy="189.0" r="1.6"/><circle cx="564.4" cy="189.0" r="1.6"/><circle cx="565.9" cy="194.8" r="1.6"/><circle cx="591.8" cy="198.0" r="1.6"/><circle cx="581.1" cy="202.4" r="1.6"/><circle cx="556.8" cy="199.5" r="1.6"/><circle cx="576.6" cy="204.5" r="1.6"/><circle cx="605.3" cy="165.6" r="1.6"/><circle cx="625.2" cy="166.8" r="1.6"/><circle cx="422.8" cy="208.5" r="1.6"/><circle cx="430.7" cy="209.9" r="1.6"/><circle cx="436.8" cy="214.6" r="1.6"/><circle cx="457.9" cy="214.6" r="1.6"/><circle cx="461.1" cy="219.0" r="1.6"/><circle cx="432.1" cy="231.3" r="1.6"/><circle cx="452.0" cy="232.8" r="1.6"/><circle cx="462.6" cy="231.3" r="1.6"/><circle cx="494.3" cy="209.9" r="1.6"/><circle cx="499.0" cy="208.5" r="1.6"/><circle cx="529.4" cy="208.5" r="1.6"/><circle cx="526.5" cy="211.7" r="1.6"/><circle cx="541.7" cy="211.7" r="1.6"/><circle cx="488.5" cy="216.1" r="1.6"/><circle cx="488.5" cy="225.2" r="1.6"/><circle cx="530.9" cy="228.2" r="1.6"/><circle cx="559.9" cy="207.0" r="1.6"/><circle cx="591.8" cy="208.4" r="1.6"/><circle cx="572.0" cy="216.1" r="1.6"/><circle cx="585.7" cy="216.1" r="1.6"/><circle cx="558.2" cy="213.2" r="1.6"/><circle cx="558.2" cy="214.9" r="1.6"/><circle cx="639.0" cy="181.1" r="1.6"/><circle cx="565.8" cy="150.5" r="1.6"/><circle cx="462.3" cy="171.4" r="1.6"/><circle cx="558.2" cy="214.0" r="1.6"/><circle cx="419.5" cy="129.2" r="1.6"/><circle cx="421.0" cy="129.2" r="1.6"/><circle cx="422.5" cy="129.2" r="1.6"/><circle cx="443.5" cy="136.8" r="1.6"/><circle cx="443.5" cy="138.3" r="1.6"/><circle cx="443.5" cy="139.5" r="1.6"/>
</g>
<line x1="402" y1="148.6" x2="641.1" y2="159.3" stroke="#000" stroke-width="3" stroke-linecap="round"/>
<line x1="400" y1="148.5" x2="641.1" y2="166.3" stroke="#a3a3a3" stroke-width="2.8" stroke-linecap="round"/>
<text class="pl" x="1.2" y="12.8">A</text>
<text class="pl" x="338.7" y="12.8">B</text>
<text class="an" x="62.6" y="25.8"><tspan font-style="italic">r</tspan> = 0.71, <tspan font-style="italic">p</tspan> &lt; 0.0001</text>
<text class="an" x="402.8" y="24.8"><tspan font-style="italic">r</tspan> = -0.09, <tspan font-style="italic">p</tspan> = 0.025</text>
<text class="ti" text-anchor="middle" x="181.9" y="338.1">Chronological age</text>
<text class="ti" text-anchor="middle" x="534.5" y="338.0">Chronological age</text>
<text class="ti" text-anchor="middle" transform="translate(15.9,153.8) rotate(-90)">Estimated age</text>
<text class="ti" text-anchor="middle" transform="translate(361,155.5) rotate(-90)">BrainAGE</text>
</svg></body></html>
